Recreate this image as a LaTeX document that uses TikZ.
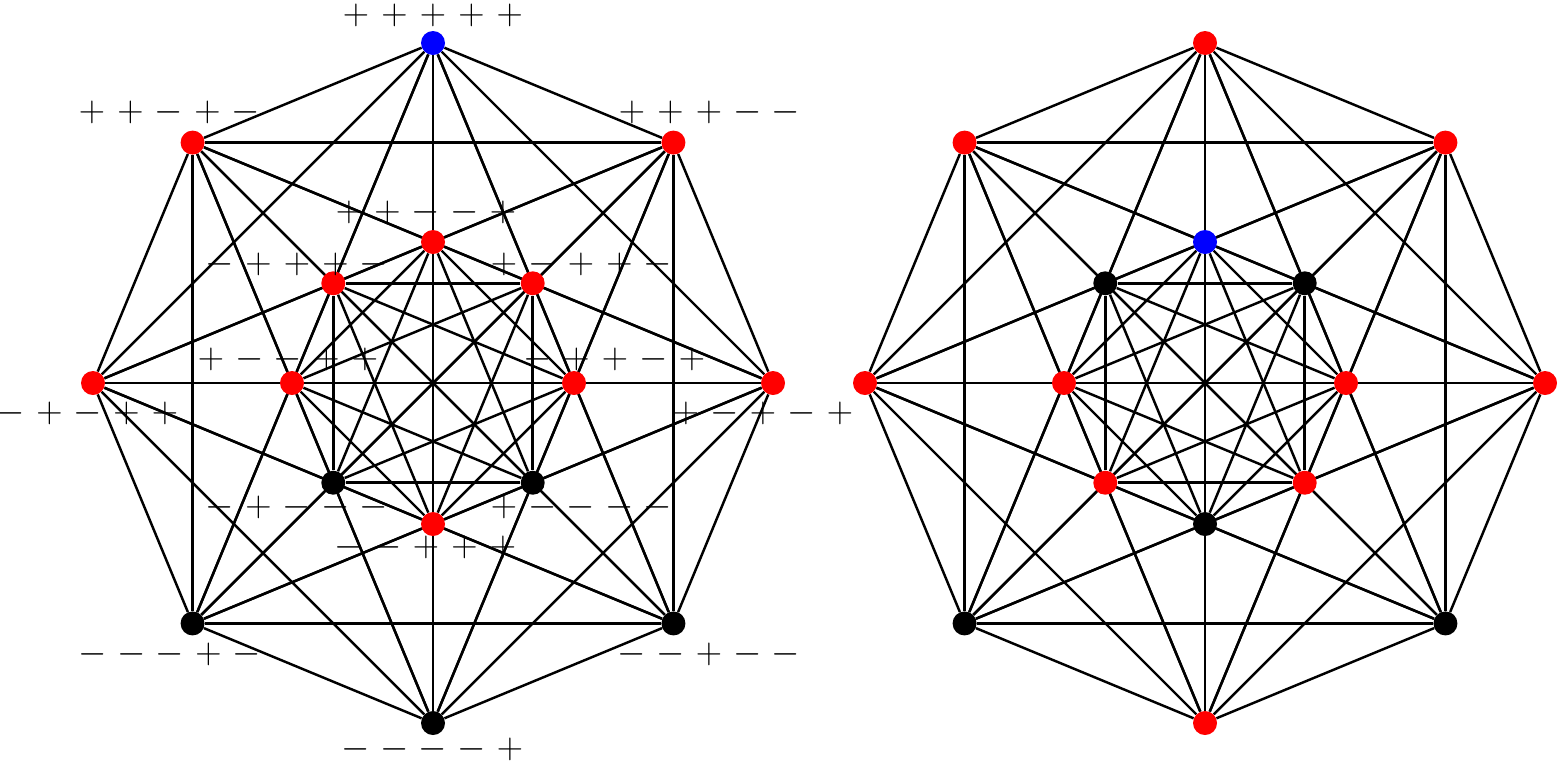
\documentclass[tikz,border=0pt]{standalone}
\pgfdeclarelayer{bg}
\pgfsetlayers{bg,main}
\newcommand\sgn[1]{\makebox[21.9pt]{$#1$}}
\newcommand\lbl[5]{\sgn{#1}\sgn{#2}\sgn{#3}\sgn{#4}\sgn{#5}}
\tikzset{
  dot/.style={circle,inner sep=0pt,minimum size=0.48cm,draw=none},
  edge/.style={line width=1.4pt,black},
  lab/.style={inner sep=0pt,font=\fontsize{21}{25}\selectfont}
}
\begin{document}
\begin{tikzpicture}[x=0.02cm,y=-0.02cm]
\useasboundingbox (0,0) rectangle (1558,762);
% left graph nodes
\foreach \k/\co/\ci in {0/blue/red,1/red/red,2/red/red,3/black/black,4/black/red,5/black/black,6/red/red,7/red/red}{
  \node[dot,fill=\co] (LO\k) at ({433+340*cos(90-45*\k)},{383-340*sin(90-45*\k)}) {};
  \node[dot,fill=\ci] (LI\k) at ({433+141*cos(90-45*\k)},{383-141*sin(90-45*\k)}) {};
}
% right graph nodes
\foreach \k/\co/\ci in {0/red/blue,1/red/black,2/red/red,3/black/red,4/red/black,5/black/red,6/red/red,7/red/black}{
  \node[dot,fill=\co] (RO\k) at ({1205+340*cos(90-45*\k)},{383-340*sin(90-45*\k)}) {};
  \node[dot,fill=\ci] (RI\k) at ({1205+141*cos(90-45*\k)},{383-141*sin(90-45*\k)}) {};
}
% edges
\begin{pgfonlayer}{bg}
\foreach \s in {L,R}{
  \foreach \k in {0,...,7}{
    \pgfmathtruncatemacro\ka{mod(\k+1,8)}
    \pgfmathtruncatemacro\kb{mod(\k+2,8)}
    \pgfmathtruncatemacro\kc{mod(\k+3,8)}
    \pgfmathtruncatemacro\kd{mod(\k+4,8)}
    \pgfmathtruncatemacro\kf{mod(\k+6,8)}
    \pgfmathtruncatemacro\kg{mod(\k+7,8)}
    \draw[edge] (\s O\k) -- (\s O\ka);
    \draw[edge] (\s O\k) -- (\s O\kb);
    \draw[edge] (\s I\k) -- (\s I\kb);
    \draw[edge] (\s I\k) -- (\s I\kc);
    \draw[edge] (\s O\k) -- (\s I\k);
    \draw[edge] (\s O\k) -- (\s I\ka);
    \draw[edge] (\s O\k) -- (\s I\kb);
    \draw[edge] (\s O\k) -- (\s I\kd);
    \draw[edge] (\s O\k) -- (\s I\kf);
    \draw[edge] (\s O\k) -- (\s I\kg);
  }
}
\end{pgfonlayer}
% labels (left graph)
\node[lab] (tO0) at (433,15) {\lbl+++++};
\node[lab] (tO7) at (169,112) {\lbl++-+-};
\node[lab] (tO1) at (709,112) {\lbl+++--};
\node[lab] (tI0) at (426,212) {\lbl++--+};
\node[lab] (tI7) at (297,264) {\lbl-+++-};
\node[lab] (tI1) at (581,264) {\lbl+-++-};
\node[lab] (tI6) at (288,359) {\lbl+--++};
\node[lab] (tI2) at (615,359) {\lbl-++-+};
\node[lab] (tO6) at (88,413) {\lbl-+-++};
\node[lab] (tO2) at (763,413) {\lbl+-+-+};
\node[lab] (tI5) at (297,507) {\lbl-+---};
\node[lab] (tI3) at (581,507) {\lbl+----};
\node[lab] (tI4) at (426,547) {\lbl--+++};
\node[lab] (tO5) at (170,654) {\lbl---+-};
\node[lab] (tO3) at (709,654) {\lbl--+--};
\node[lab] (tO4) at (433,749) {\lbl----+};
\end{tikzpicture}
\end{document}
